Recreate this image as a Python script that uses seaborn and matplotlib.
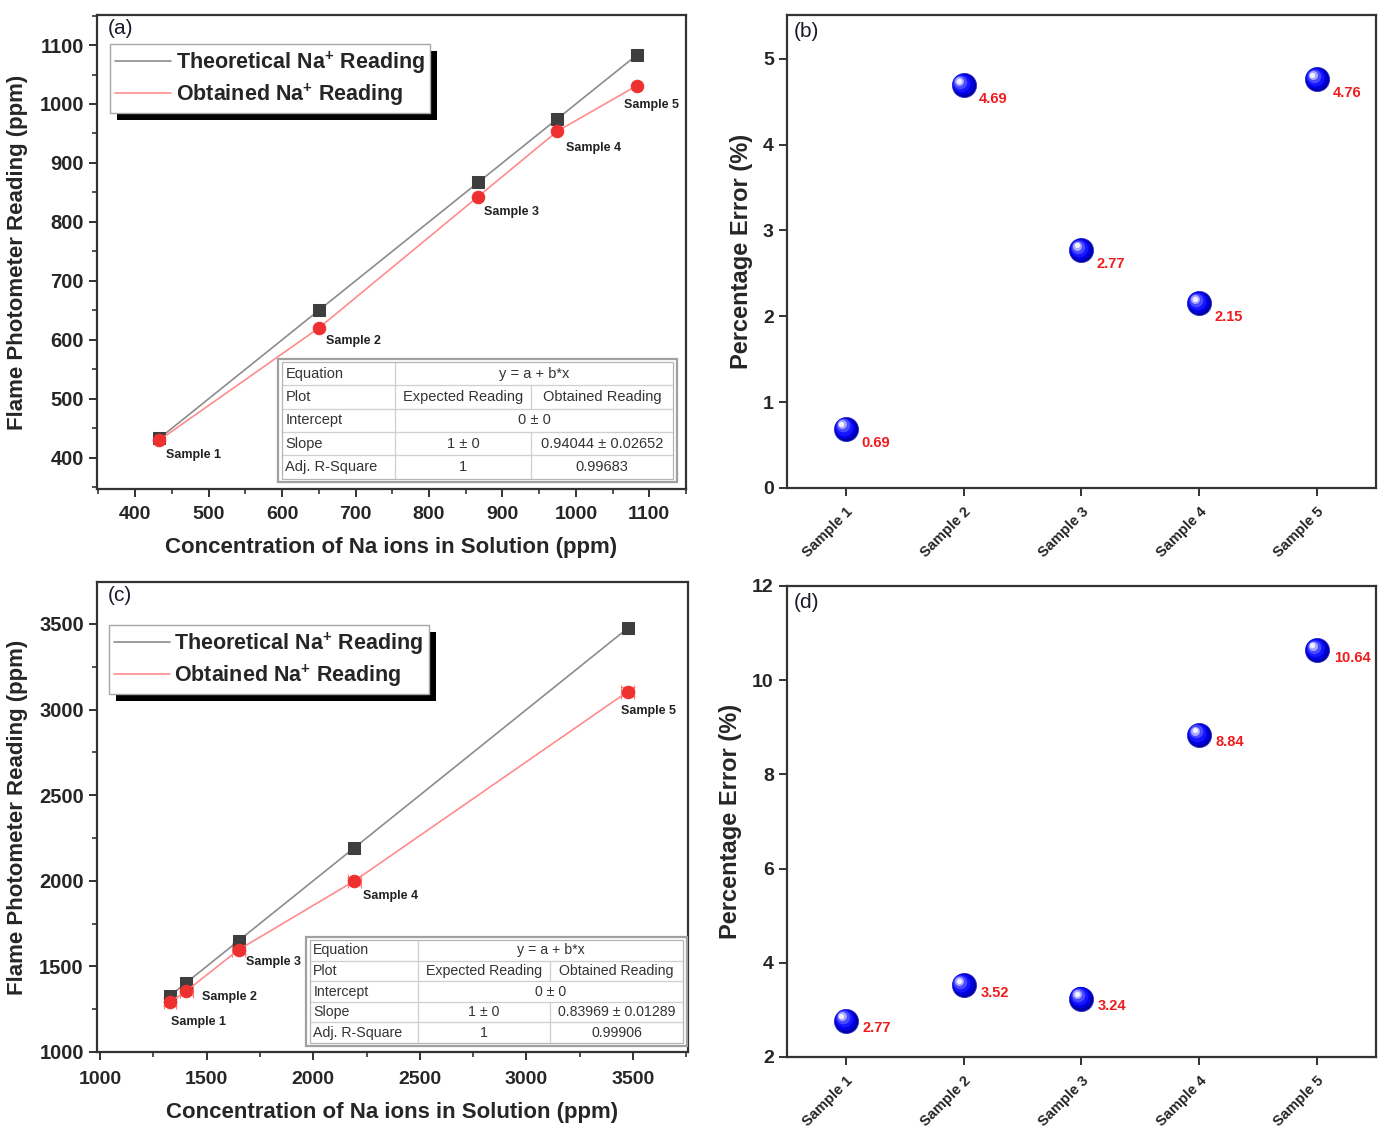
import numpy as np
import matplotlib
matplotlib.use('Agg')
import matplotlib.pyplot as plt
import matplotlib.patheffects as pe
from matplotlib.lines import Line2D
from matplotlib.patches import Rectangle
from matplotlib.ticker import MultipleLocator
from matplotlib.transforms import offset_copy
import seaborn as sns

# ---- data ----
samples = ['Sample 1', 'Sample 2', 'Sample 3', 'Sample 4', 'Sample 5']

# (a) low concentration set
conc_a = [433, 650, 867, 975, 1083]
theo_a = [433, 650, 867, 975, 1083]
obt_a = [430, 620, 843, 954, 1031]

# (b) percentage error of (a)
err_b = [0.69, 4.69, 2.77, 2.15, 4.76]

# (c) high concentration set
conc_c = [1328, 1405, 1650, 2193, 3475]
theo_c = [1328, 1405, 1650, 2193, 3475]
obt_c = [1291, 1356, 1597, 1999, 3105]
obt_c_xerr = [30, 30, 30, 30, 30]
obt_c_yerr = [25, 25, 25, 25, 25]

# (d) percentage error of (c)
err_d = [2.77, 3.52, 3.24, 8.84, 10.64]

# linear fit tables (None = merged cell)
table_a = [('Equation', 'y = a + b*x', None),
           ('Plot', 'Expected Reading', 'Obtained Reading'),
           ('Intercept', '0 \u00b1 0', None),
           ('Slope', '1 \u00b1 0', '0.94044 \u00b1 0.02652'),
           ('Adj. R-Square', '1', '0.99683')]
table_c = [('Equation', 'y = a + b*x', None),
           ('Plot', 'Expected Reading', 'Obtained Reading'),
           ('Intercept', '0 \u00b1 0', None),
           ('Slope', '1 \u00b1 0', '0.83969 \u00b1 0.01289'),
           ('Adj. R-Square', '1', '0.99906')]

sns.set_theme(style='ticks')
plt.rcParams['font.family'] = ['Liberation Sans', 'DejaVu Sans']
plt.rcParams['mathtext.fontset'] = 'custom'
plt.rcParams['mathtext.bf'] = 'Liberation Sans:bold'
plt.rcParams['mathtext.rm'] = 'Liberation Sans'

GRAY_LINE = '#8c8c8c'
GRAY_MARK = '#3e3e3e'
RED_LINE = '#ff8c8c'
RED_MARK = '#ee3030'
SPINE = '#333333'

fig = plt.figure(figsize=(13.78, 11.33), dpi=100)
ax_a = fig.add_axes([0.0704, 0.5684, 0.4274, 0.4184])
ax_b = fig.add_axes([0.5711, 0.5693, 0.4274, 0.4175])
ax_c = fig.add_axes([0.0704, 0.0715, 0.4289, 0.4148])
ax_d = fig.add_axes([0.5711, 0.0671, 0.4274, 0.4157])


def style_axes(ax, minor=True):
    for sp in ax.spines.values():
        sp.set_color(SPINE)
        sp.set_linewidth(1.6)
    ax.tick_params(which='major', direction='out', length=6, width=1.4,
                   color=SPINE, top=False, right=False)
    if minor:
        ax.tick_params(which='minor', direction='out', length=3.5, width=1.2,
                       color=SPINE, top=False, right=False)


def fit_table(ax, rows, left, right, top, bottom, splits, fs):
    n = len(rows)
    h = (top - bottom) / n
    ax.add_patch(Rectangle((left - 0.006, bottom - 0.007), right - left + 0.012,
                           top - bottom + 0.014, transform=ax.transAxes,
                           facecolor='white', edgecolor='#a0a0a0', lw=1.6, zorder=6))
    kw = dict(transform=ax.transAxes, color='#cfcfcf', lw=0.9, zorder=7)
    for i, (name, c1, c2) in enumerate(rows):
        yt = top - i * h
        yc = yt - h / 2
        if i > 0:
            ax.plot([left, right], [yt, yt], **kw)
        ax.plot([splits[0], splits[0]], [yt, yt - h], **kw)
        tkw = dict(transform=ax.transAxes, fontsize=fs, color='#333333',
                   va='center', zorder=8)
        ax.text(left + 0.006, yc, name, ha='left', **tkw)
        if c2 is None:
            ax.text((splits[0] + right) / 2, yc, c1, ha='center', **tkw)
        else:
            ax.plot([splits[1], splits[1]], [yt, yt - h], **kw)
            ax.text((splits[0] + splits[1]) / 2, yc, c1, ha='center', **tkw)
            ax.text((splits[1] + right) / 2, yc, c2, ha='center', **tkw)
    ax.add_patch(Rectangle((left, bottom), right - left, top - bottom,
                           transform=ax.transAxes, facecolor='none',
                           edgecolor='#b5b5b5', lw=0.9, zorder=7))


def reading_panel(ax, conc, theo, obt, tag, label_offsets, legend_anchor, xpad):
    sns.lineplot(x=conc, y=theo, ax=ax, color=GRAY_LINE, lw=1.2, marker='s',
                 markersize=8, markerfacecolor=GRAY_MARK, markeredgecolor=GRAY_MARK,
                 legend=False, zorder=3)
    sns.lineplot(x=conc, y=obt, ax=ax, color=RED_LINE, lw=1.2, marker='o',
                 markersize=9, markerfacecolor=RED_MARK, markeredgecolor=RED_MARK,
                 legend=False, zorder=4)
    for s, x, y, (dx, dy) in zip(samples, conc, obt, label_offsets):
        ax.annotate(s, (x, y), xytext=(dx, dy), textcoords='offset points',
                    fontsize=9, fontweight='bold', color='#222222',
                    ha='left', va='center')
    handles = [Line2D([], [], color=GRAY_LINE, lw=1.2),
               Line2D([], [], color=RED_LINE, lw=1.2)]
    labels = [r'Theoretical Na$^{\mathbf{+}}$ Reading',
              r'Obtained Na$^{\mathbf{+}}$ Reading']
    leg = ax.legend(handles, labels, loc='upper left', bbox_to_anchor=legend_anchor,
                    frameon=True, fancybox=False, edgecolor='#a8a8a8',
                    framealpha=1, handlelength=2.6, handletextpad=0.2,
                    borderpad=0.25, labelspacing=0.25, borderaxespad=0,
                    prop={'weight': 'bold', 'size': 15.5})
    leg.get_frame().set_linewidth(1.0)
    leg.get_frame().set_path_effects([
        pe.SimplePatchShadow(offset=(5, -5), shadow_rgbFace='black', alpha=1.0),
        pe.Normal()])
    leg.set_zorder(10)
    ax.text(0.019, 0.992, tag, transform=ax.transAxes, fontsize=15,
            color='#1a1a2a', va='top', ha='left')
    ax.set_xlabel('Concentration of Na ions in Solution (ppm)', fontsize=16,
                  fontweight='bold', labelpad=10)
    ax.set_ylabel('Flame Photometer Reading (ppm)', fontsize=16,
                  fontweight='bold', labelpad=8)
    style_axes(ax)
    ax.tick_params(axis='x', which='major', pad=xpad)


def ball_scatter(ax, cats, vals):
    sns.scatterplot(x=cats, y=vals, ax=ax, s=300, color='#0000a0',
                    edgecolor='#2b2bd0', linewidth=0.6, zorder=3, legend=False)
    layers = [(0.78, '#0000e0', 0.8), (0.55, '#1515ff', 1.6),
              (0.32, '#4a4aff', 2.4), (0.14, '#a8a8ff', 3.1), (0.05, '#f0f0ff', 3.4)]
    for frac, col, off in layers:
        tr = offset_copy(ax.transData, fig=fig, x=-off, y=off, units='points')
        ax.scatter(cats, vals, s=300 * frac, color=col, linewidths=0,
                   transform=tr, zorder=4)


def error_panel(ax, vals, tag, ylim, yticks, label_offset):
    ball_scatter(ax, samples, vals)
    for s, v in zip(samples, vals):
        ax.annotate(f'{v:.2f}', (s, v), xytext=label_offset,
                    textcoords='offset points', fontsize=10.5, fontweight='bold',
                    color='#ee1c1c', ha='left', va='center', annotation_clip=False)
    ax.set_xlim(-0.5, 4.5)
    ax.set_ylim(*ylim)
    ax.set_yticks(yticks)
    ax.set_yticklabels([str(t) for t in yticks], fontweight='bold', fontsize=14)
    ax.set_xticks(range(len(samples)))
    ax.set_xticklabels(samples, rotation=45, ha='right', va='top',
                       rotation_mode='anchor', fontsize=10.5, fontweight='bold')
    ax.set_ylabel('Percentage Error (%)', fontsize=17, fontweight='bold', labelpad=7)
    ax.set_xlabel('')
    ax.text(0.011, 0.985, tag, transform=ax.transAxes, fontsize=15,
            color='#1a1a2a', va='top', ha='left')
    style_axes(ax, minor=False)
    ax.tick_params(axis='x', which='major', pad=6)


def number_ticks(ax, ticks_x, ticks_y):
    ax.set_xticks(ticks_x)
    ax.set_xticklabels([str(t) for t in ticks_x], fontweight='bold', fontsize=14)
    ax.set_yticks(ticks_y)
    ax.set_yticklabels([str(t) for t in ticks_y], fontweight='bold', fontsize=14.5)


# ---- (a) ----
reading_panel(ax_a, conc_a, theo_a, obt_a, '(a)',
              [(5, -11), (5, -9), (4, -11), (6, -12), (-9, -14)], (0.022, 0.939), 6)
ax_a.set_xlim(348, 1150)
ax_a.set_ylim(347, 1151)
ta = np.arange(400, 1101, 100)
number_ticks(ax_a, ta, ta)
ax_a.xaxis.set_minor_locator(MultipleLocator(50))
ax_a.yaxis.set_minor_locator(MultipleLocator(50))
fit_table(ax_a, table_a, 0.314, 0.978, 0.268, 0.022, (0.506, 0.737), 10.5)

# ---- (c) ----
ax_c.errorbar(conc_c, obt_c, xerr=obt_c_xerr, yerr=obt_c_yerr, fmt='none',
              ecolor='#ff7a7a', elinewidth=0.8, capsize=5, capthick=0.8, zorder=3)
reading_panel(ax_c, conc_c, theo_c, obt_c, '(c)',
              [(1, -14), (11, -4), (5, -9), (6, -11), (-5, -14)], (0.020, 0.9085), 8)
ax_c.set_xlim(986, 3758)
ax_c.set_ylim(1000, 3745)
tc = np.arange(1000, 3501, 500)
number_ticks(ax_c, tc, tc)
ax_c.xaxis.set_minor_locator(MultipleLocator(250))
ax_c.yaxis.set_minor_locator(MultipleLocator(250))
fit_table(ax_c, table_c, 0.360, 0.992, 0.238, 0.019, (0.543, 0.766), 10.2)

# ---- (b) and (d) ----
error_panel(ax_b, err_b, '(b)', (0, 5.51), [0, 1, 2, 3, 4, 5], (11, -10))
error_panel(ax_d, err_d, '(d)', (2, 12), [2, 4, 6, 8, 10, 12], (12, -5.5))

fig.savefig('out.png', dpi=100)
